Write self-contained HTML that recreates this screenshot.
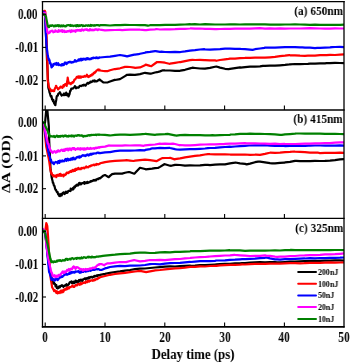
<!DOCTYPE html>
<html><head><meta charset="utf-8"><style>
html,body{margin:0;padding:0;background:#fff;width:350px;height:363px;overflow:hidden}
#w{position:relative;width:350px;height:363px}
svg{position:absolute;left:0;top:0}
.t{position:absolute;font-family:"Liberation Serif",serif;font-weight:bold;color:#000;white-space:nowrap;line-height:1}
.t{will-change:transform}
.yl{font-size:14.5px;transform:scaleX(0.765);transform-origin:100% 50%;right:312.2px}
.xl{font-size:13.8px;transform:translateX(-50%) scaleX(0.83);}
.pl{font-size:13px;transform:scaleX(0.87);transform-origin:100% 50%;right:7px}
.lg{font-size:8.6px;transform:scaleX(0.92);transform-origin:0 50%;left:318px}
</style></head><body><div id="w">
<svg width="350" height="363" viewBox="0 0 350 363">
<defs>
<clipPath id="c0"><rect x="42.5" y="1.6" width="301.5" height="108.5"/></clipPath>
<clipPath id="c1"><rect x="42.5" y="110.0" width="301.5" height="108.4"/></clipPath>
<clipPath id="c2"><rect x="42.5" y="218.4" width="301.5" height="108.5"/></clipPath>
</defs>
<g clip-path="url(#c0)" fill="none" stroke-width="2.2" stroke-linejoin="round" stroke-linecap="round">
<polyline stroke="#000" points="42.5,13.5 43.1,12.6 43.7,14.5 44.3,14.4 44.9,13.8 45.0,13.8 45.5,24.4 46.0,35.0 46.1,37.5 46.7,52.5 47.0,60.0 47.3,66.0 47.9,78.0 48.0,80.0 48.3,87.5 48.5,88.3 49.1,90.1 49.5,92.3 49.7,92.7 50.3,94.8 50.9,96.7 51.3,95.9 51.5,96.2 52.1,99.5 52.7,99.7 53.0,101.2 53.3,99.8 53.9,102.2 54.2,103.5 54.5,102.5 55.1,105.0 55.4,105.1 55.7,102.6 56.3,99.7 56.6,97.0 56.9,96.1 57.5,95.6 57.8,95.7 58.1,94.1 58.7,93.3 59.3,93.5 59.9,92.2 60.5,93.4 61.1,94.7 61.7,95.6 61.9,95.2 62.3,95.0 62.9,94.6 63.5,95.0 63.8,94.4 64.1,93.5 64.7,95.2 65.3,94.1 65.9,94.0 66.2,92.6 66.5,95.0 67.1,95.3 67.7,94.0 68.3,95.2 68.6,96.5 68.9,95.5 69.5,94.3 70.1,91.1 70.5,90.9 70.7,90.3 71.3,88.6 71.9,88.6 72.5,88.6 73.1,88.4 73.7,87.5 74.3,87.5 74.9,86.1 75.5,86.8 76.1,88.3 76.7,87.7 77.3,87.4 77.9,87.7 78.5,87.6 79.1,87.0 79.7,85.9 80.3,85.9 80.9,85.8 81.5,86.1 82.1,85.3 82.7,85.2 83.3,85.5 83.9,84.7 84.5,84.9 85.1,85.6 85.7,85.6 86.3,84.4 86.9,83.6 87.5,82.9 88.1,83.1 88.4,83.7 88.7,83.2 89.3,82.6 89.9,82.8 90.5,81.6 91.1,81.7 91.7,82.1 92.3,81.3 92.9,80.9 93.0,80.6 93.5,81.0 94.1,81.5 94.7,80.4 95.3,81.4 95.9,81.4 96.4,81.5 96.5,81.3 97.1,81.2 97.7,80.6 98.3,80.4 98.9,80.0 99.5,79.4 99.9,80.1 100.0,79.9 103.3,82.4 105.0,82.5 107.9,82.3 110.0,81.5 114.7,79.9 115.0,80.0 120.0,79.1 125.0,76.1 127.1,74.8 130.0,74.7 134.3,74.9 135.0,74.8 138.6,74.3 140.0,74.1 145.0,72.8 150.0,73.6 150.7,73.7 155.0,72.5 157.1,72.2 160.0,71.4 162.9,70.3 165.0,70.4 170.0,70.5 175.0,70.9 180.0,70.8 180.4,70.7 185.0,69.8 190.0,68.4 192.4,67.7 195.0,68.0 200.0,68.5 204.4,68.7 205.0,68.6 210.0,67.9 215.0,66.8 216.4,66.5 220.0,67.6 225.0,68.8 228.6,69.1 230.0,68.9 235.0,68.1 240.0,67.3 240.6,67.6 245.0,67.1 250.0,66.7 255.0,66.6 260.0,66.4 262.9,65.9 265.0,65.8 270.0,65.7 275.0,65.7 280.0,65.3 285.0,64.9 289.3,64.4 290.0,64.3 295.0,64.0 300.0,64.2 305.0,64.0 307.9,63.8 310.0,63.6 315.0,63.6 320.0,63.4 325.0,63.3 326.5,63.1 330.0,63.2 335.0,62.9 340.0,63.0 344.0,63.2"/>
<polyline stroke="#f00" points="42.5,11.5 43.1,12.7 43.7,12.8 44.3,10.8 44.9,10.9 45.3,12.0 45.5,15.3 46.1,25.1 46.4,30.0 46.7,39.9 47.1,53.0 47.3,59.0 47.5,65.0 47.7,80.4 47.9,81.4 48.5,84.3 48.9,87.1 49.1,87.3 49.7,88.6 50.3,89.1 50.7,90.8 50.9,90.9 51.5,91.1 51.8,90.3 52.1,90.8 52.7,90.4 53.3,90.9 53.9,91.2 54.2,91.0 54.5,89.5 55.1,88.3 55.7,86.8 56.0,85.8 56.3,86.1 56.9,87.7 57.5,88.0 57.8,88.4 58.1,89.5 58.7,88.5 59.3,88.4 59.9,87.4 60.5,86.7 60.9,87.3 61.1,86.7 61.7,87.2 62.3,87.9 62.9,86.7 63.5,85.1 63.8,86.6 64.1,85.9 64.7,84.7 65.2,84.3 65.3,84.0 65.9,84.7 66.5,84.2 66.7,86.0 67.1,81.8 67.6,79.1 67.7,77.7 68.3,81.4 68.6,83.4 68.9,83.4 69.5,82.9 70.1,83.3 70.5,83.3 70.7,84.2 71.3,82.9 71.9,83.4 72.5,82.1 73.1,82.5 73.7,81.7 74.3,79.9 74.9,79.3 75.4,79.4 75.5,78.9 76.1,78.0 76.7,77.0 77.3,76.7 77.9,77.5 78.5,76.3 79.1,77.8 79.7,76.5 80.3,77.6 80.9,76.5 81.1,77.6 81.5,77.1 82.1,76.7 82.7,76.7 83.3,76.9 83.9,76.8 84.0,76.3 84.5,75.9 85.1,76.2 85.7,76.6 86.3,75.8 86.9,74.7 87.5,76.3 88.0,76.4 88.1,76.9 88.4,76.4 88.7,77.1 89.3,75.8 89.9,76.3 90.5,75.4 91.1,75.0 91.7,75.5 91.9,74.4 92.3,74.6 92.9,74.5 93.5,73.2 94.1,72.7 94.7,73.0 95.3,71.9 95.9,71.7 96.5,70.5 97.1,70.4 97.7,69.7 98.1,69.9 98.3,69.4 98.9,70.4 99.5,69.7 100.0,70.5 103.3,71.0 105.0,71.1 107.9,71.1 110.0,70.2 114.7,69.0 115.0,69.1 120.0,68.3 125.0,66.9 127.1,66.8 130.0,67.0 134.3,67.7 135.0,67.8 140.0,67.4 145.0,65.2 145.7,64.6 150.0,65.9 151.4,66.1 155.0,63.5 157.1,62.0 160.0,62.1 162.9,62.3 165.0,62.7 169.3,63.8 170.0,63.7 175.0,62.8 180.0,62.0 180.4,62.1 185.0,61.1 190.0,60.1 192.4,59.8 195.0,60.0 200.0,59.9 204.4,60.2 205.0,60.2 210.0,60.4 215.0,60.4 216.4,60.8 220.0,60.0 225.0,59.4 228.6,58.9 230.0,58.6 235.0,58.6 240.0,58.2 245.0,57.9 245.7,57.8 250.0,57.8 255.0,57.6 260.0,57.7 264.6,57.5 265.0,57.7 270.0,57.3 275.0,56.9 280.0,56.2 285.0,55.7 289.3,55.1 290.0,55.3 295.0,55.4 300.0,55.7 305.0,55.8 307.9,55.7 310.0,55.7 315.0,55.6 320.0,55.2 325.0,55.1 326.5,55.2 330.0,54.9 335.0,55.0 340.0,54.6 344.0,54.4"/>
<polyline stroke="#00f" points="42.5,12.0 43.1,11.6 43.7,12.6 44.3,12.4 44.9,13.0 45.0,13.0 45.4,20.0 45.5,25.0 45.6,30.0 46.1,38.2 46.6,46.5 46.7,47.3 47.3,52.1 47.7,55.3 47.9,56.0 48.5,58.4 49.0,60.3 49.1,59.2 49.7,60.8 49.9,63.3 50.3,62.8 50.9,64.1 51.5,67.3 51.6,66.2 52.1,66.8 52.7,65.6 53.0,65.8 53.3,64.2 53.9,64.4 54.3,64.4 54.5,63.6 55.1,64.3 55.7,64.3 56.3,62.9 56.9,64.8 57.5,64.5 57.6,63.8 58.1,63.2 58.7,65.2 59.3,64.3 59.9,64.9 60.5,65.3 61.1,65.0 61.7,65.5 62.0,64.2 62.3,65.1 62.9,64.1 63.5,65.1 64.1,64.8 64.7,62.7 65.3,62.6 65.9,62.6 66.5,64.2 67.1,62.8 67.7,63.0 68.3,62.1 68.9,62.4 69.5,61.9 70.0,61.6 70.1,62.2 70.7,62.0 71.3,62.6 71.9,62.0 72.5,62.4 73.1,62.1 73.7,62.2 74.3,61.4 74.9,60.1 75.5,61.5 76.1,61.6 76.7,61.3 77.3,60.5 77.9,60.6 78.5,59.5 79.1,60.6 79.7,59.9 80.0,59.3 80.3,58.8 80.9,60.3 81.5,60.4 82.1,58.7 82.7,59.9 83.3,59.2 83.9,58.7 84.5,58.9 85.1,59.6 85.7,59.7 86.3,58.3 86.9,59.1 87.5,58.2 88.1,59.1 88.7,58.5 89.3,59.2 89.9,59.3 90.5,58.6 91.1,59.1 91.7,58.2 92.3,57.8 92.9,58.4 93.5,57.6 94.1,57.8 94.7,58.0 95.3,58.1 95.9,57.6 96.5,57.4 97.1,58.2 97.7,57.6 98.3,58.1 98.9,58.0 99.5,57.4 100.0,57.5 105.0,57.0 110.0,56.6 115.0,55.8 120.0,55.0 125.0,55.9 127.1,56.4 130.0,55.6 134.3,54.6 135.0,54.6 138.6,54.2 140.0,53.8 145.0,52.7 145.7,52.3 150.0,51.8 155.0,51.1 155.7,51.2 160.0,51.8 161.4,51.7 165.0,52.0 170.0,52.2 175.0,51.9 180.0,52.1 180.4,52.0 185.0,51.4 190.0,50.6 192.4,50.4 195.0,50.2 200.0,49.5 204.4,49.2 205.0,49.5 210.0,49.6 214.7,49.3 215.0,49.4 220.0,49.1 225.0,48.6 230.0,48.7 235.0,48.8 240.0,48.8 240.6,48.9 245.0,49.2 250.0,49.6 252.6,49.9 255.0,49.2 260.0,48.5 264.6,47.8 265.0,47.6 270.0,47.5 275.0,47.7 280.0,47.4 285.0,47.2 289.3,47.1 290.0,47.2 295.0,47.1 300.0,47.3 302.3,47.3 305.0,47.6 310.0,47.7 315.0,48.1 317.2,47.9 320.0,47.8 325.0,47.6 330.0,47.4 332.0,47.1 335.0,47.0 340.0,46.9 344.0,47.1"/>
<polyline stroke="#f0f" points="42.5,13.5 43.1,13.0 43.7,12.8 44.3,13.5 44.9,13.0 45.0,12.8 45.5,16.9 46.0,20.0 46.1,20.9 46.7,26.3 47.3,31.6 47.4,32.5 47.9,32.2 48.5,33.3 49.1,32.9 49.7,32.6 50.1,31.3 50.3,31.9 50.9,31.3 51.5,30.9 52.1,30.7 52.7,30.8 53.3,32.3 53.9,32.0 54.5,31.8 55.1,31.7 55.3,30.3 55.7,30.6 56.3,31.3 56.9,31.5 57.5,31.8 58.1,31.8 58.7,30.1 59.3,31.2 59.9,31.4 60.5,31.0 61.1,30.3 61.7,30.9 62.2,30.1 62.3,32.0 62.9,31.8 63.5,31.2 64.1,30.6 64.7,32.0 65.3,31.3 65.9,32.0 66.5,32.0 67.1,31.2 67.7,31.1 68.3,31.5 68.9,31.2 69.5,30.6 70.1,30.9 70.7,32.1 71.3,30.3 71.9,30.3 72.5,31.4 73.1,30.6 73.7,31.1 74.3,30.9 74.9,30.6 75.5,31.8 76.1,30.1 76.7,30.5 77.3,30.0 77.9,30.7 78.5,30.0 79.1,30.1 79.3,30.7 79.7,30.0 80.3,30.3 80.9,30.9 81.5,29.5 82.1,29.4 82.7,29.7 83.3,30.5 83.9,30.2 84.5,29.6 85.1,29.7 85.7,29.4 86.3,29.8 86.9,29.2 87.5,30.1 87.9,30.4 88.1,30.4 88.7,30.1 89.3,30.4 89.9,29.1 90.5,29.5 91.1,30.3 91.7,30.1 92.3,29.6 92.9,30.3 93.5,29.9 94.1,30.1 94.7,29.5 95.3,29.4 95.9,29.6 96.5,29.3 97.1,29.6 97.7,30.2 98.3,29.6 98.9,29.4 99.5,29.5 100.0,29.6 105.0,30.4 110.0,30.1 115.0,30.0 120.0,29.9 122.2,30.2 125.0,29.9 130.0,29.7 135.0,29.6 139.3,29.5 140.0,29.6 145.0,30.2 146.2,30.1 150.0,29.6 155.0,29.3 156.5,29.0 160.0,29.5 165.0,29.3 170.0,29.3 175.0,29.2 180.0,28.9 185.0,28.9 190.0,28.5 190.7,28.4 195.0,28.6 200.0,28.5 205.0,28.8 210.0,28.9 215.0,29.2 216.4,29.2 220.0,29.0 225.0,28.8 230.0,28.8 235.0,28.7 240.0,28.6 245.0,28.5 250.0,28.6 255.0,28.3 260.0,28.2 265.0,28.6 270.0,28.4 275.0,28.6 280.0,28.4 285.0,28.6 290.0,28.5 295.0,28.5 300.0,28.5 305.0,28.4 310.0,28.2 315.0,28.3 320.0,28.5 325.0,28.6 330.0,28.6 335.0,28.3 340.0,28.5 344.0,28.5"/>
<polyline stroke="#008000" points="42.5,14.0 43.1,14.2 43.7,14.5 44.3,14.6 44.9,14.9 45.0,14.6 45.5,16.2 46.0,16.3 46.1,17.5 46.7,20.5 47.0,22.0 47.3,23.5 47.9,26.4 48.5,27.1 49.0,26.7 49.1,27.0 49.7,25.6 50.1,25.9 50.3,25.5 50.9,25.9 51.5,26.0 52.1,25.2 52.7,25.5 53.3,25.5 53.9,26.4 54.5,26.2 55.1,25.3 55.7,26.2 56.3,25.3 56.9,26.0 57.5,25.3 58.1,25.1 58.7,26.3 59.3,25.3 59.9,25.3 60.5,26.4 61.1,26.2 61.7,25.4 62.2,26.3 62.3,25.8 62.9,25.9 63.5,25.3 64.1,26.3 64.7,26.0 65.3,26.4 65.9,26.3 66.5,25.4 67.1,25.5 67.7,25.2 68.3,25.2 68.9,25.1 69.5,25.4 70.1,25.8 70.7,25.0 71.3,25.9 71.9,25.5 72.5,25.4 73.1,26.1 73.7,25.7 74.3,25.5 74.9,25.7 75.5,26.0 76.1,25.1 76.7,26.3 77.3,25.1 77.9,26.0 78.5,26.1 79.1,25.1 79.3,26.0 79.7,25.5 80.3,25.8 80.9,25.1 81.5,25.1 82.1,25.3 82.7,26.1 83.3,25.3 83.9,25.9 84.5,26.0 85.1,26.0 85.7,25.4 86.3,25.4 86.9,25.5 87.5,25.8 88.1,25.1 88.7,25.7 89.3,25.7 89.9,25.8 90.5,25.0 91.1,25.8 91.7,25.1 92.3,25.3 92.9,25.5 93.5,25.7 94.1,25.2 94.7,25.7 95.3,25.4 95.9,25.2 96.5,25.2 97.1,25.1 97.7,25.0 98.3,25.1 98.9,25.5 99.5,25.7 100.0,25.1 105.0,25.2 110.0,25.5 115.0,25.2 120.0,25.1 125.0,24.9 130.0,25.0 130.7,25.0 135.0,25.0 140.0,25.2 145.0,25.2 147.9,25.7 150.0,25.2 155.0,25.2 160.0,25.2 165.0,24.8 170.0,24.9 175.0,24.8 180.0,24.6 185.0,24.5 190.0,24.2 190.7,24.3 195.0,24.2 200.0,24.5 205.0,24.2 210.0,24.3 215.0,24.5 220.0,24.5 225.0,24.5 230.0,24.3 235.0,24.4 240.0,24.5 245.0,24.4 250.0,24.3 255.0,24.4 260.0,24.3 265.0,24.4 270.0,24.7 275.0,24.7 280.0,24.6 285.0,24.5 290.0,24.5 295.0,24.4 300.0,24.5 305.0,24.7 310.0,24.8 315.0,24.6 320.0,24.8 325.0,24.8 330.0,24.8 335.0,24.8 340.0,24.9 344.0,24.7"/>
</g>
<g clip-path="url(#c1)" fill="none" stroke-width="2.2" stroke-linejoin="round" stroke-linecap="round">
<polyline stroke="#000" points="42.5,125.0 43.1,125.8 43.7,125.8 44.3,125.0 44.5,124.4 44.9,123.0 45.1,122.0 45.5,117.8 46.1,111.4 46.7,103.8 46.8,104.4 47.3,109.5 47.9,116.1 48.5,122.7 48.8,126.0 49.1,137.2 49.2,141.0 49.7,151.4 50.3,163.8 50.6,170.0 50.9,172.1 51.5,176.2 51.7,177.6 52.1,179.2 52.7,181.5 52.8,182.7 53.3,183.0 53.9,185.6 54.5,185.9 55.1,188.7 55.7,189.9 56.1,190.1 56.3,190.7 56.9,192.1 57.5,191.8 57.8,193.2 58.1,194.3 58.7,193.7 59.3,196.0 59.4,195.8 59.9,196.1 60.5,194.6 61.1,193.8 61.6,195.5 61.7,195.4 62.3,194.0 62.9,192.7 63.5,192.5 63.8,193.5 64.1,192.5 64.7,194.0 65.3,192.9 65.9,191.7 66.0,192.9 66.5,191.8 67.1,192.9 67.7,192.4 68.3,190.9 68.9,191.0 69.5,190.8 70.1,190.8 70.5,191.0 70.7,188.5 71.3,189.2 71.9,189.7 72.5,188.8 72.7,189.4 73.1,187.8 73.3,189.5 73.7,188.3 74.3,186.7 74.9,187.4 75.5,186.0 75.6,185.6 76.1,185.9 76.7,184.7 77.3,184.5 77.9,185.5 78.5,184.8 79.0,183.0 79.1,184.6 79.7,182.9 80.3,183.4 80.9,184.4 81.5,183.8 82.1,183.0 82.7,183.1 83.3,183.0 83.9,182.4 84.5,183.8 84.7,182.1 85.1,182.7 85.7,183.1 86.3,182.3 86.9,183.1 87.5,181.8 88.1,182.8 88.7,182.5 89.3,182.0 89.9,182.1 90.5,181.2 91.1,181.6 91.7,181.3 92.3,180.8 92.7,180.6 92.9,180.8 93.5,180.4 94.1,179.9 94.7,180.6 95.3,179.9 95.9,180.1 96.1,180.4 96.5,179.5 97.1,179.1 97.7,178.9 98.3,179.1 98.9,178.5 99.5,178.1 99.6,178.3 100.0,178.4 103.0,175.8 105.0,175.0 105.3,175.1 108.7,177.2 110.0,175.9 112.1,174.2 115.0,173.6 120.0,173.5 122.1,173.6 125.0,172.8 128.6,172.0 130.0,172.2 134.3,173.7 135.0,173.1 140.0,167.8 145.0,169.0 145.7,169.3 150.0,168.8 152.1,168.6 155.0,168.2 157.9,168.0 160.0,166.9 164.3,164.2 165.0,164.3 170.0,165.7 171.2,165.8 175.0,164.9 176.3,164.9 180.0,165.0 185.0,165.7 190.0,165.4 195.0,165.5 200.0,165.3 205.0,164.9 207.9,164.9 210.0,165.1 215.0,164.7 220.0,164.4 223.9,164.4 225.0,164.3 230.0,163.4 235.0,162.7 235.3,162.5 240.0,163.3 245.0,163.9 246.7,164.4 250.0,163.6 255.0,162.2 258.1,161.7 260.0,161.7 265.0,162.3 270.0,163.1 272.1,163.3 275.0,163.3 280.0,162.9 284.3,162.7 285.0,162.4 290.0,161.9 295.0,160.9 296.4,160.9 300.0,161.1 305.0,161.1 310.0,161.1 315.0,160.9 320.0,161.0 325.0,161.0 325.5,160.8 330.0,160.6 335.0,160.1 340.0,159.4 344.0,159.1"/>
<polyline stroke="#f00" points="42.5,124.7 43.1,124.5 43.7,124.3 44.0,125.2 44.3,128.1 44.9,133.9 45.5,139.7 46.1,145.5 46.2,146.5 46.7,148.9 47.3,151.8 47.9,154.7 48.5,157.6 49.0,160.0 49.1,160.7 49.7,164.9 50.1,167.7 50.3,168.7 50.9,171.7 51.2,173.6 51.5,172.6 52.1,174.6 52.7,175.1 53.3,175.3 53.4,176.5 53.9,175.4 54.5,176.3 55.1,175.5 55.7,175.5 56.1,176.3 56.3,177.2 56.9,175.1 57.5,174.9 58.1,175.5 58.7,175.8 59.3,174.6 59.4,174.1 59.9,175.7 60.5,173.8 61.1,176.0 61.7,175.0 62.3,174.9 62.7,175.1 62.9,175.4 63.5,176.3 64.1,174.5 64.7,175.2 65.3,175.0 65.9,174.0 66.0,174.4 66.5,172.9 67.1,172.5 67.7,172.5 68.3,173.2 68.9,172.2 69.4,171.7 69.5,172.3 70.1,171.6 70.7,171.0 71.3,171.9 71.9,171.3 72.5,170.0 72.7,170.7 73.1,170.4 73.3,171.1 73.7,170.7 74.3,169.6 74.9,170.9 75.5,168.9 76.1,169.4 76.7,169.9 77.3,168.5 77.9,169.1 78.5,168.0 79.1,169.1 79.7,169.2 80.3,168.7 80.9,169.1 81.5,167.9 82.1,168.4 82.4,168.2 82.7,168.1 83.3,167.7 83.9,168.2 84.5,168.3 85.1,167.3 85.7,167.5 86.3,166.4 86.9,167.3 87.5,167.0 88.1,167.4 88.7,167.0 89.3,166.1 89.9,166.1 90.5,166.3 91.1,165.3 91.7,165.7 92.3,165.2 92.9,165.0 93.5,164.7 94.1,165.4 94.7,164.5 95.3,164.5 95.9,164.5 96.1,165.0 96.5,164.0 97.1,164.3 97.7,164.2 98.3,164.4 98.9,164.1 99.5,164.0 100.0,163.3 103.0,162.6 105.0,162.1 109.9,161.3 110.0,161.3 115.0,160.9 120.0,160.6 125.0,160.3 126.4,160.2 130.0,160.6 133.6,161.0 135.0,160.7 140.0,160.1 145.0,159.7 150.0,160.2 155.0,160.9 156.4,161.2 160.0,159.2 162.1,158.1 165.0,158.0 169.5,157.9 170.0,157.8 174.6,159.4 175.0,159.2 180.0,158.4 181.5,158.1 185.0,157.4 190.0,156.6 195.0,155.8 200.0,155.4 205.0,154.5 207.9,154.1 210.0,154.2 215.0,154.3 220.0,154.4 225.0,154.4 230.0,154.5 230.7,154.6 235.0,154.5 240.0,154.6 245.0,154.5 250.0,154.8 255.0,154.7 255.9,154.6 260.0,154.9 265.0,153.9 269.7,152.8 270.0,152.7 275.0,152.8 280.0,152.6 285.0,152.1 290.0,151.9 294.0,151.5 295.0,151.6 300.0,151.9 305.0,152.1 310.0,152.6 315.0,152.6 318.3,152.7 320.0,153.1 325.0,152.9 330.0,152.8 335.0,152.9 340.0,152.7 344.0,152.9"/>
<polyline stroke="#00f" points="42.5,124.8 43.1,124.2 43.7,126.1 44.0,124.1 44.3,126.9 44.9,130.8 45.5,134.8 46.0,138.0 46.1,138.6 46.7,142.1 47.3,145.6 47.9,149.1 48.4,152.0 48.5,152.4 49.1,155.3 49.7,156.1 50.1,158.1 50.3,160.3 50.9,159.6 51.5,161.8 52.1,162.6 52.3,163.0 52.7,163.2 53.3,162.5 53.9,164.2 54.5,162.5 55.1,162.6 55.7,161.9 56.3,162.2 56.9,162.3 57.5,163.3 58.1,161.8 58.3,161.1 58.7,161.3 59.3,162.9 59.9,160.5 60.5,161.7 61.1,160.9 61.7,161.5 62.3,160.5 62.7,161.3 62.9,160.7 63.5,160.9 64.1,161.4 64.7,160.5 65.3,159.2 65.9,158.9 66.5,160.9 67.1,159.6 67.7,158.7 68.3,160.4 68.9,159.4 69.5,159.7 70.1,160.0 70.7,158.5 71.3,158.6 71.9,159.7 72.5,158.0 73.1,159.3 73.7,157.7 74.0,159.0 74.3,159.0 74.9,159.3 75.5,158.9 76.1,158.0 76.7,157.2 77.3,156.9 77.9,157.5 78.5,157.3 79.1,156.3 79.7,157.7 80.3,156.8 80.9,157.0 81.5,155.9 82.1,155.8 82.7,155.2 83.3,155.6 83.6,155.4 83.9,155.6 84.5,155.4 85.1,156.1 85.7,156.0 86.3,154.8 86.9,155.0 87.5,154.5 88.1,155.2 88.7,155.5 89.3,154.3 89.9,154.9 90.5,154.2 91.1,153.7 91.7,154.6 92.3,153.9 92.9,153.6 93.5,153.8 94.1,153.4 94.7,153.5 95.3,153.5 95.9,153.3 96.4,153.4 96.5,153.1 97.1,152.8 97.7,152.7 98.3,152.7 98.9,153.1 99.5,152.9 100.0,153.2 105.0,152.4 109.3,152.1 110.0,152.1 115.0,151.2 120.0,150.7 122.1,150.6 125.0,150.6 130.0,150.6 135.0,150.5 140.0,150.2 145.0,150.3 145.4,149.9 150.0,149.1 152.3,148.3 155.0,148.4 160.0,147.9 165.0,148.1 169.5,147.8 170.0,148.0 175.0,149.1 176.3,149.3 180.0,149.6 185.0,149.4 190.0,149.2 195.0,149.1 200.0,148.8 205.0,148.5 207.9,148.2 210.0,148.0 215.0,147.8 220.0,147.4 225.0,147.0 230.0,146.7 230.7,146.8 235.0,146.5 240.0,146.1 245.0,145.8 249.0,145.5 250.0,145.5 255.0,145.4 260.0,145.4 265.0,145.1 270.0,145.6 275.0,145.8 280.0,146.0 284.3,146.0 285.0,146.1 290.0,146.0 295.0,145.8 300.0,146.0 305.0,145.8 308.5,145.6 310.0,145.7 315.0,145.5 320.0,145.5 325.0,145.6 330.0,145.7 335.0,145.7 340.0,145.4 344.0,145.6"/>
<polyline stroke="#f0f" points="42.5,124.8 43.1,124.9 43.7,124.8 44.0,124.4 44.3,126.6 44.9,129.5 45.5,132.4 46.1,135.3 46.7,138.1 47.3,141.0 47.9,143.7 48.5,143.8 49.0,146.5 49.1,147.7 49.7,147.5 50.3,150.3 50.6,151.3 50.9,150.2 51.5,151.3 52.1,152.4 52.7,152.2 52.8,152.9 53.3,151.5 53.9,151.5 54.5,151.1 55.1,151.8 55.7,152.6 56.3,151.7 56.9,152.0 57.2,151.0 57.5,151.8 58.1,150.3 58.7,150.6 59.3,151.3 59.9,151.4 60.5,150.6 61.1,149.8 61.7,150.1 62.3,149.8 62.7,149.9 62.9,151.0 63.5,149.6 64.1,151.0 64.7,150.9 65.3,149.0 65.9,149.6 66.5,149.8 67.1,148.6 67.7,149.4 68.3,150.4 68.9,148.6 69.5,149.6 70.1,148.5 70.7,149.5 71.3,150.1 71.9,148.6 72.5,148.1 73.1,148.2 73.7,149.1 74.0,148.0 74.3,148.2 74.9,149.0 75.5,149.8 76.1,148.8 76.7,148.8 77.3,149.2 77.9,148.2 78.5,149.1 79.1,148.4 79.7,149.1 80.3,149.7 80.9,148.2 81.5,149.0 82.1,149.1 82.7,148.3 83.3,148.5 83.6,149.7 83.9,149.7 84.5,148.3 85.1,149.1 85.7,149.4 86.3,148.3 86.9,148.9 87.5,148.0 88.1,148.4 88.7,148.8 89.3,148.7 89.9,148.9 90.5,147.9 91.1,148.2 91.7,148.8 92.3,148.5 92.9,148.3 93.5,148.2 94.1,148.8 94.7,148.3 95.3,147.7 95.9,148.4 96.4,147.9 96.5,148.0 97.1,147.7 97.7,147.8 98.3,147.6 98.9,147.2 99.5,147.6 100.0,147.1 105.0,146.6 109.3,145.4 110.0,145.7 115.0,145.7 120.0,145.6 122.1,145.7 125.0,145.4 130.0,145.5 135.0,145.3 140.0,145.4 143.7,145.8 145.0,145.4 150.0,144.9 155.0,144.5 160.0,143.7 160.9,143.8 165.0,143.6 170.0,143.8 172.9,143.6 175.0,144.0 179.7,145.3 180.0,145.0 185.0,145.3 190.0,145.4 195.0,145.1 200.0,144.7 205.0,144.5 210.0,144.4 215.0,144.3 220.0,144.2 223.9,144.2 225.0,143.9 230.0,143.7 235.0,143.7 240.0,143.4 245.0,143.2 246.7,143.3 250.0,143.4 255.0,143.3 260.0,143.5 265.0,143.7 270.0,143.8 275.0,143.7 280.0,144.0 284.3,143.8 285.0,144.0 290.0,144.0 295.0,144.0 300.0,143.8 305.0,143.6 308.5,143.5 310.0,143.7 315.0,143.3 320.0,143.4 325.0,143.0 330.0,143.1 335.0,142.7 340.0,142.4 344.0,142.4"/>
<polyline stroke="#008000" points="42.5,122.3 43.1,122.4 43.7,122.2 44.3,122.4 44.9,123.9 45.3,126.1 45.5,126.6 46.1,127.8 46.7,128.6 47.1,130.0 47.3,130.2 47.9,131.3 48.5,133.6 48.8,134.3 49.1,133.6 49.7,136.1 50.1,136.6 50.3,136.3 50.9,136.1 51.5,136.5 52.1,136.3 52.7,136.6 53.3,136.6 53.9,135.9 54.5,136.8 55.0,137.2 55.1,137.2 55.7,136.6 56.3,135.8 56.9,135.7 57.5,135.9 58.1,136.9 58.7,136.0 59.3,136.1 59.9,136.8 60.5,135.9 61.1,136.3 61.7,136.1 62.3,135.6 62.9,136.3 63.5,136.6 64.1,135.7 64.7,135.7 65.3,136.0 65.9,135.5 66.0,136.1 66.5,136.5 67.1,136.3 67.7,136.1 68.3,136.6 68.9,135.6 69.5,136.2 70.1,135.9 70.7,136.2 71.3,135.5 71.9,136.4 72.5,135.5 73.1,135.6 73.7,136.4 74.0,136.6 74.3,135.9 74.9,135.8 75.5,135.5 76.1,135.5 76.7,135.9 77.3,135.3 77.9,135.2 78.5,135.5 79.1,135.1 79.7,135.6 80.3,135.7 80.9,135.6 81.0,135.3 81.5,135.4 82.1,135.8 82.7,135.6 83.3,136.7 83.6,136.4 83.9,136.3 84.5,135.9 85.1,136.2 85.7,136.1 86.3,135.8 86.9,136.1 87.5,135.8 88.1,135.2 88.7,135.3 89.3,135.6 89.9,135.2 90.5,135.3 91.1,134.8 91.7,135.1 92.3,135.0 92.9,134.9 93.5,134.9 94.1,135.0 94.7,134.9 95.3,134.9 95.9,134.6 96.4,134.8 96.5,135.1 97.1,134.8 97.7,134.5 98.3,134.5 98.9,134.9 99.5,134.6 100.0,134.7 105.0,134.9 109.3,135.3 110.0,135.5 115.0,134.9 120.0,134.6 122.1,134.5 125.0,134.6 130.0,134.8 135.0,134.6 140.0,134.3 145.0,133.9 145.4,133.8 150.0,134.3 155.0,134.9 155.7,134.7 160.0,134.3 165.0,134.1 167.7,133.9 170.0,134.3 175.0,135.3 176.3,135.6 180.0,135.2 185.0,134.9 190.0,135.1 195.0,135.0 200.0,135.2 205.0,135.3 210.0,135.4 212.4,135.1 215.0,135.4 220.0,135.1 225.0,135.0 230.0,134.8 230.7,134.5 235.0,134.4 240.0,133.9 245.0,133.8 246.7,133.9 250.0,133.7 255.0,133.8 260.0,133.8 265.0,134.0 270.0,134.2 275.0,134.3 280.0,134.8 281.8,134.9 285.0,134.4 290.0,134.1 295.0,133.7 296.4,133.5 300.0,133.5 305.0,133.7 310.0,133.7 315.0,133.6 320.0,133.7 325.0,133.9 330.0,133.9 335.0,133.8 340.0,134.0 344.0,134.1"/>
</g>
<g clip-path="url(#c2)" fill="none" stroke-width="2.2" stroke-linejoin="round" stroke-linecap="round">
<polyline stroke="#000" points="42.5,230.5 43.1,230.4 43.7,230.8 44.3,231.8 44.5,230.6 44.9,233.2 45.5,236.9 46.0,240.0 46.1,240.9 46.7,246.3 47.3,251.7 47.9,257.1 48.0,258.0 48.5,261.5 49.1,265.7 49.7,269.9 50.0,272.0 50.3,273.1 50.9,275.6 51.5,276.8 52.1,279.9 52.7,282.4 53.3,283.6 53.9,282.5 54.5,283.8 55.1,284.0 55.6,286.5 55.7,286.3 56.3,285.1 56.9,288.0 57.5,288.4 58.1,288.1 58.4,288.2 58.7,286.9 59.3,286.3 59.9,287.3 60.5,285.9 61.1,286.0 61.7,285.9 62.0,285.2 62.3,286.2 62.9,285.9 63.5,286.8 64.1,285.7 64.7,285.8 65.3,285.2 65.9,285.5 66.0,284.9 66.5,284.2 67.1,285.7 67.7,285.4 68.3,284.7 68.9,284.1 69.5,282.7 70.1,282.2 70.7,282.1 71.3,281.4 71.9,283.0 72.5,282.0 73.1,283.0 73.7,281.7 74.3,283.0 74.9,282.6 75.5,280.5 76.1,280.9 76.7,282.3 77.3,281.2 77.9,282.2 78.5,280.8 79.1,280.0 79.3,281.2 79.7,281.4 80.3,280.1 80.9,279.6 81.5,279.9 82.1,281.0 82.7,280.4 83.3,279.0 83.9,279.0 84.5,278.6 85.1,278.4 85.7,279.5 86.3,278.2 86.9,278.7 87.5,278.3 87.9,277.8 88.1,278.6 88.7,277.5 89.3,278.1 89.9,277.1 90.5,277.4 91.1,276.9 91.7,276.8 92.3,277.6 92.9,277.2 93.5,276.4 94.1,276.9 94.7,275.9 95.3,275.9 95.9,276.3 96.5,275.9 97.1,275.1 97.7,276.0 98.3,275.0 98.9,275.0 99.5,275.4 100.0,274.8 105.0,273.9 110.0,272.8 115.0,272.0 120.0,271.4 125.0,270.6 130.0,270.0 135.0,269.2 140.0,268.6 145.0,268.5 150.0,268.0 155.0,267.5 160.0,267.1 165.0,266.6 170.0,266.4 175.0,266.5 180.0,266.2 185.0,265.8 190.0,265.6 190.7,265.8 195.0,265.7 200.0,265.1 205.0,265.2 210.0,264.9 215.0,264.5 216.4,264.4 220.0,264.1 225.0,263.8 230.0,263.9 235.0,263.4 240.0,263.3 242.1,263.0 245.0,263.1 250.0,262.7 255.0,262.3 260.0,262.2 265.0,262.4 270.0,262.2 275.0,262.2 277.2,262.3 280.0,262.3 285.0,262.0 290.0,261.7 295.0,261.7 300.0,261.3 304.3,261.0 305.0,261.1 310.0,261.1 315.0,260.8 320.0,260.8 325.0,260.7 330.0,260.7 335.0,260.4 340.0,260.4 344.0,260.6"/>
<polyline stroke="#f00" points="42.5,231.0 43.1,231.1 43.7,231.6 44.3,231.7 44.9,230.6 45.2,230.3 45.5,229.3 46.1,225.0 46.3,223.2 46.7,224.0 47.3,226.0 47.9,234.4 48.3,240.0 48.5,243.7 49.1,254.7 49.5,262.0 49.7,264.9 50.3,273.6 50.6,277.9 50.9,279.7 51.5,283.4 52.0,286.4 52.1,287.3 52.7,288.3 53.3,289.3 53.9,290.4 54.1,291.1 54.5,290.1 55.1,291.2 55.7,290.9 56.3,293.0 56.9,291.4 57.5,293.5 57.7,291.9 58.1,293.2 58.7,292.2 59.3,292.1 59.9,293.0 60.5,290.8 61.1,290.7 61.7,292.5 62.0,291.4 62.3,290.3 62.9,292.1 63.5,291.7 64.1,289.4 64.7,289.8 65.3,288.8 65.9,288.9 66.0,289.6 66.5,288.2 67.1,289.2 67.7,287.4 68.3,287.3 68.9,288.6 69.5,287.3 70.1,287.0 70.7,287.1 71.3,286.7 71.9,286.3 72.5,285.3 73.1,286.7 73.7,287.0 74.3,286.9 74.9,286.0 75.5,285.1 76.1,285.0 76.7,285.5 77.3,285.3 77.9,283.9 78.5,284.0 79.1,284.1 79.3,284.3 79.7,284.8 80.3,284.0 80.9,282.9 81.5,284.2 82.1,283.3 82.7,283.3 83.3,282.6 83.9,282.8 84.5,282.5 85.1,283.0 85.7,281.7 86.3,282.3 86.9,281.5 87.5,282.1 87.9,281.0 88.1,281.3 88.7,281.2 89.3,281.5 89.9,280.5 90.5,280.9 91.1,280.4 91.7,280.3 92.3,280.4 92.9,280.8 93.5,280.0 94.1,280.4 94.7,279.3 95.3,280.0 95.9,279.2 96.5,278.9 97.1,279.2 97.7,279.0 98.3,277.8 98.9,277.7 99.5,277.9 100.0,277.3 105.0,276.0 110.0,274.8 115.0,274.0 120.0,273.4 125.0,272.9 130.0,272.2 135.0,271.5 140.0,270.8 145.0,271.8 146.0,272.1 150.0,271.4 154.0,270.7 155.0,270.4 160.0,270.0 165.0,269.4 170.0,268.9 175.0,268.3 180.0,268.1 185.0,267.7 190.0,266.9 190.7,266.9 195.0,266.9 200.0,266.4 205.0,266.5 210.0,266.0 215.0,265.8 216.4,265.8 220.0,265.4 225.0,265.2 230.0,264.9 235.0,264.8 240.0,264.6 242.1,264.3 245.0,264.5 250.0,264.1 255.0,263.9 260.0,263.8 265.0,263.9 270.0,263.6 275.0,263.5 277.2,263.6 280.0,263.6 285.0,263.4 290.0,263.2 295.0,263.2 300.0,263.3 304.3,263.2 305.0,263.1 310.0,262.9 315.0,262.8 320.0,262.9 325.0,262.7 330.0,262.4 335.0,262.6 340.0,262.5 344.0,262.4"/>
<polyline stroke="#00f" points="42.5,230.0 43.1,229.5 43.7,230.6 44.3,230.6 44.5,231.0 44.9,232.1 45.5,235.0 46.1,241.0 46.7,247.0 47.0,250.0 47.3,253.2 47.9,259.5 48.5,265.8 49.1,272.1 49.7,273.3 50.3,275.4 50.9,277.1 51.3,278.6 51.5,279.9 52.1,278.6 52.7,279.7 53.3,279.1 53.9,279.5 54.1,279.8 54.5,280.7 55.1,280.1 55.7,278.5 56.3,279.0 56.9,278.6 57.5,280.2 57.7,280.0 58.1,279.6 58.7,278.9 59.3,278.0 59.9,277.8 60.0,277.3 60.5,275.9 61.1,277.3 61.7,276.3 62.3,276.8 62.9,276.3 63.5,275.6 64.1,275.1 64.7,274.9 65.3,274.2 65.9,273.4 66.5,274.7 67.1,274.3 67.7,274.7 68.3,273.9 68.9,273.4 69.5,273.8 70.1,272.2 70.7,273.4 71.3,272.8 71.4,272.1 71.9,272.1 72.5,272.7 73.1,272.0 73.7,272.4 74.3,272.6 74.9,272.0 75.5,271.4 75.7,272.1 76.1,271.5 76.7,271.5 77.3,271.4 77.9,271.7 78.5,271.1 79.1,272.2 79.7,272.8 80.0,271.7 80.3,272.3 80.9,272.6 81.5,270.8 82.1,270.9 82.7,272.0 83.3,272.0 83.9,271.5 84.5,270.6 85.1,271.0 85.7,271.6 86.3,271.5 86.9,271.3 87.5,270.2 88.1,271.1 88.7,270.3 89.3,270.7 89.9,269.8 90.5,270.8 91.1,270.2 91.4,270.3 91.7,269.6 92.3,270.0 92.9,269.9 93.5,269.9 94.1,269.5 94.7,269.9 95.3,269.3 95.9,269.2 96.5,269.0 97.1,269.5 97.7,269.0 98.3,269.2 98.9,269.2 99.5,269.8 100.0,269.8 101.4,270.0 105.0,268.4 107.1,267.9 110.0,267.0 115.0,266.4 120.0,265.8 125.0,266.1 130.0,265.6 135.0,265.6 140.0,265.5 145.0,265.0 150.0,264.1 152.0,264.0 155.0,264.0 160.0,264.3 165.0,263.6 170.0,263.2 175.0,263.0 180.0,262.8 185.0,262.3 190.0,261.9 190.7,262.0 195.0,261.6 200.0,261.2 205.0,261.2 210.0,261.1 215.0,260.8 216.4,260.5 220.0,260.5 225.0,260.3 230.0,259.8 235.0,259.7 240.0,259.3 242.1,259.2 245.0,259.1 250.0,258.9 255.0,258.7 260.0,258.1 265.0,257.8 266.3,257.5 270.0,258.4 275.0,259.3 277.2,259.4 280.0,259.6 285.0,259.2 290.0,259.1 295.0,258.9 300.0,258.6 304.3,258.4 305.0,258.5 310.0,258.2 315.0,258.4 320.0,258.0 325.0,258.2 330.0,257.9 335.0,257.8 340.0,257.7 344.0,257.5"/>
<polyline stroke="#f0f" points="42.5,229.8 43.1,228.9 43.7,230.2 44.3,230.1 44.5,230.8 44.9,230.6 45.5,233.0 46.1,242.0 46.3,245.0 46.7,247.7 47.3,251.8 47.9,255.9 48.4,259.3 48.5,259.8 49.1,262.5 49.7,265.2 50.3,267.9 50.6,268.8 50.9,270.7 51.5,272.4 52.1,273.4 52.7,276.1 53.3,275.6 53.9,276.5 54.5,275.2 55.1,275.6 55.7,277.2 56.3,276.1 56.9,275.7 57.5,276.7 58.1,276.1 58.7,274.8 59.3,275.5 59.9,275.5 60.4,274.3 60.5,275.2 61.1,273.4 61.7,273.1 62.3,271.9 62.9,271.4 63.5,273.0 64.1,271.6 64.7,272.7 65.3,271.4 65.7,271.6 65.9,272.1 66.5,271.4 67.1,269.9 67.7,270.6 68.3,270.4 68.6,269.3 68.9,269.0 69.5,270.6 70.1,269.7 70.7,268.8 71.3,269.2 71.4,268.7 71.9,269.4 72.5,268.2 73.1,266.8 73.6,267.7 73.7,266.3 74.3,267.2 74.9,267.1 75.5,268.9 75.7,267.8 76.1,268.4 76.7,267.1 77.3,267.5 77.9,267.4 78.5,267.8 79.1,268.3 79.7,269.0 80.0,269.2 80.3,269.5 80.9,268.8 81.5,269.6 82.1,269.4 82.7,270.5 82.9,270.7 83.3,269.2 83.9,269.3 84.5,270.0 85.1,269.7 85.7,268.8 86.3,269.7 86.9,270.0 87.1,269.2 87.5,269.0 88.1,269.2 88.7,269.6 89.3,268.6 89.9,268.6 90.5,268.3 91.1,268.8 91.4,268.6 91.7,268.2 92.3,268.2 92.9,267.5 93.5,267.7 94.1,268.2 94.7,267.5 95.3,267.0 95.7,267.6 95.9,266.8 96.5,266.2 97.1,265.5 97.7,265.1 98.3,264.7 98.6,264.5 98.9,264.9 99.5,264.2 100.0,264.1 101.4,264.0 104.3,265.3 105.0,264.4 107.1,263.4 110.0,263.3 115.0,262.7 120.0,262.0 125.0,262.2 126.0,262.1 130.0,261.0 134.0,260.1 135.0,260.2 140.0,261.4 145.0,260.9 150.0,260.0 155.0,260.1 160.0,259.9 165.0,260.2 170.0,259.7 175.0,259.1 180.0,259.0 185.0,258.4 190.0,258.0 190.7,257.9 195.0,257.5 200.0,257.2 205.0,257.0 208.7,256.6 210.0,256.5 215.0,256.2 220.0,255.9 225.0,255.5 230.0,255.3 234.4,254.8 235.0,254.9 240.0,255.3 245.0,255.6 250.0,256.0 255.0,255.8 260.0,255.8 265.0,255.4 266.3,255.6 270.0,255.8 275.0,256.6 277.2,256.9 280.0,256.6 285.0,256.6 290.0,256.2 295.0,256.0 300.0,255.5 304.3,255.5 305.0,255.4 310.0,255.2 315.0,255.2 320.0,254.9 325.0,254.3 330.0,254.3 335.0,254.2 340.0,253.8 344.0,253.4"/>
<polyline stroke="#008000" points="42.5,231.3 43.1,232.0 43.7,230.7 44.3,231.8 44.9,231.0 45.0,232.2 45.5,234.4 45.7,235.6 46.1,237.8 46.7,241.0 47.0,242.6 47.3,243.0 47.7,245.0 47.9,246.0 48.5,249.1 49.1,252.3 49.7,255.4 49.9,256.4 50.3,258.4 50.9,260.2 51.3,261.9 51.5,262.2 52.1,261.3 52.7,261.6 53.3,262.4 53.4,261.8 53.9,261.6 54.5,261.4 55.1,262.0 55.7,261.9 56.3,261.6 56.9,260.6 57.5,261.4 57.7,260.7 58.1,260.3 58.7,260.6 59.3,260.6 59.9,260.1 60.0,260.8 60.5,260.4 61.1,260.6 61.7,261.0 62.3,260.5 62.9,260.0 63.5,260.5 64.1,260.6 64.7,259.8 65.3,260.3 65.9,258.9 66.5,258.9 67.1,258.8 67.7,259.9 68.3,259.5 68.9,259.4 69.5,258.8 70.1,259.0 70.7,259.5 71.3,258.3 71.9,258.3 72.5,258.2 73.1,258.7 73.7,259.1 74.3,258.7 74.9,258.4 75.5,258.5 76.1,258.0 76.7,258.9 77.3,258.1 77.9,257.9 78.5,258.0 79.1,258.5 79.7,257.9 80.3,258.5 80.9,257.8 81.4,257.8 81.5,257.4 82.1,258.3 82.7,258.1 83.3,257.7 83.9,257.2 84.5,257.5 85.1,257.4 85.7,257.8 86.3,257.8 86.9,257.5 87.5,257.0 88.1,256.7 88.6,257.5 88.7,257.5 89.3,256.8 89.9,257.1 90.5,257.1 91.1,257.5 91.7,256.7 92.3,256.7 92.9,257.4 93.5,257.2 94.1,257.1 94.7,257.3 95.3,257.2 95.7,257.2 95.9,256.9 96.5,256.6 97.1,256.5 97.7,256.6 98.3,256.7 98.9,256.4 99.5,256.3 100.0,256.3 102.9,255.8 105.0,255.6 110.0,255.1 115.0,254.7 120.0,254.1 125.0,253.9 130.0,253.6 135.0,252.8 140.0,252.7 145.0,252.7 150.0,253.0 155.0,252.8 160.0,252.4 165.0,252.2 170.0,252.3 175.0,251.8 180.0,251.9 185.0,251.6 190.0,251.3 190.7,251.2 195.0,251.2 200.0,251.1 205.0,250.9 210.0,250.6 215.0,250.5 220.0,250.7 225.0,250.5 229.3,250.1 230.0,250.4 235.0,250.4 240.0,250.4 245.0,250.8 250.0,250.6 255.0,250.6 260.0,250.6 265.0,250.7 270.0,250.5 275.0,250.4 280.0,250.5 285.0,250.2 290.0,250.2 290.8,249.9 295.0,250.2 300.0,250.0 305.0,250.2 310.0,250.2 315.0,250.2 320.0,250.1 325.0,250.1 330.0,250.2 335.0,250.0 340.0,250.0 344.0,250.1"/>
</g>
<g fill="none" stroke="#000">
<line x1="42.50" y1="1.0" x2="42.50" y2="327.6" stroke-width="1.3"/>
<line x1="344.00" y1="1.0" x2="344.00" y2="327.6" stroke-width="1.3"/>
<line x1="41.85" y1="1.55" x2="344.65" y2="1.55" stroke-width="1.3"/>
<line x1="41.85" y1="110.00" x2="344.65" y2="110.00" stroke-width="1.5"/>
<line x1="41.85" y1="218.40" x2="344.65" y2="218.40" stroke-width="1.3"/>
<line x1="41.85" y1="326.90" x2="344.65" y2="326.90" stroke-width="1.6"/>
</g>
<g stroke="#000" stroke-width="1.1">
<line x1="45.2" y1="110.0" x2="45.2" y2="105.5"/>
<line x1="105.0" y1="110.0" x2="105.0" y2="105.5"/>
<line x1="164.8" y1="110.0" x2="164.8" y2="105.5"/>
<line x1="224.6" y1="110.0" x2="224.6" y2="105.5"/>
<line x1="284.4" y1="110.0" x2="284.4" y2="105.5"/>
<line x1="42.5" y1="14.3" x2="46.0" y2="14.3"/>
<line x1="42.5" y1="47.4" x2="46.0" y2="47.4"/>
<line x1="42.5" y1="80.7" x2="46.0" y2="80.7"/>
<line x1="45.2" y1="218.4" x2="45.2" y2="213.9"/>
<line x1="105.0" y1="218.4" x2="105.0" y2="213.9"/>
<line x1="164.8" y1="218.4" x2="164.8" y2="213.9"/>
<line x1="224.6" y1="218.4" x2="224.6" y2="213.9"/>
<line x1="284.4" y1="218.4" x2="284.4" y2="213.9"/>
<line x1="42.5" y1="122.8" x2="46.0" y2="122.8"/>
<line x1="42.5" y1="155.9" x2="46.0" y2="155.9"/>
<line x1="42.5" y1="188.7" x2="46.0" y2="188.7"/>
<line x1="45.2" y1="326.9" x2="45.2" y2="322.4"/>
<line x1="105.0" y1="326.9" x2="105.0" y2="322.4"/>
<line x1="164.8" y1="326.9" x2="164.8" y2="322.4"/>
<line x1="224.6" y1="326.9" x2="224.6" y2="322.4"/>
<line x1="284.4" y1="326.9" x2="284.4" y2="322.4"/>
<line x1="42.5" y1="231.4" x2="46.0" y2="231.4"/>
<line x1="42.5" y1="264.4" x2="46.0" y2="264.4"/>
<line x1="42.5" y1="297.0" x2="46.0" y2="297.0"/>
</g>
<g stroke-width="2">
<line x1="298.2" y1="272.0" x2="316.0" y2="272.0" stroke="#000" stroke-linecap="round"/>
<line x1="298.2" y1="283.8" x2="316.0" y2="283.8" stroke="#f00" stroke-linecap="round"/>
<line x1="298.2" y1="295.6" x2="316.0" y2="295.6" stroke="#00f" stroke-linecap="round"/>
<line x1="298.2" y1="307.1" x2="316.0" y2="307.1" stroke="#f0f" stroke-linecap="round"/>
<line x1="298.2" y1="318.9" x2="316.0" y2="318.9" stroke="#008000" stroke-linecap="round"/>
</g>
</svg>
<div class="t yl" style="top:6.9px">0.00</div>
<div class="t yl" style="top:39.9px">-0.01</div>
<div class="t yl" style="top:73.2px">-0.02</div>
<div class="t yl" style="top:115.3px">0.00</div>
<div class="t yl" style="top:148.5px">-0.01</div>
<div class="t yl" style="top:181.2px">-0.02</div>
<div class="t yl" style="top:224.0px">0.00</div>
<div class="t yl" style="top:256.9px">-0.01</div>
<div class="t yl" style="top:289.6px">-0.02</div>
<div class="t xl" style="left:45.2px;top:330.6px">0</div>
<div class="t xl" style="left:105.0px;top:330.6px">10</div>
<div class="t xl" style="left:164.8px;top:330.6px">20</div>
<div class="t xl" style="left:224.6px;top:330.6px">30</div>
<div class="t xl" style="left:284.4px;top:330.6px">40</div>
<div class="t xl" style="left:344.2px;top:330.6px">50</div>
<div class="t pl" style="top:3.5px">(a) 650nm</div>
<div class="t pl" style="top:112.3px">(b) 415nm</div>
<div class="t pl" style="top:220.8px">(c) 325nm</div>
<div class="t lg" style="top:267.7px">200nJ</div>
<div class="t lg" style="top:279.5px">100nJ</div>
<div class="t lg" style="top:291.3px">50nJ</div>
<div class="t lg" style="top:302.8px">20nJ</div>
<div class="t lg" style="top:314.6px">10nJ</div>
<div class="t" style="font-size:15.5px;left:193.2px;top:346px;transform:translateX(-50%) scaleX(0.83)">Delay time (ps)</div>
<div class="t" style="font-size:15.6px;left:0;top:0;width:80px;height:16px;text-align:center;transform:translate(-34px,156px) rotate(-90deg) scaleY(0.84)">&Delta;A (OD)</div>
</div></body></html>
